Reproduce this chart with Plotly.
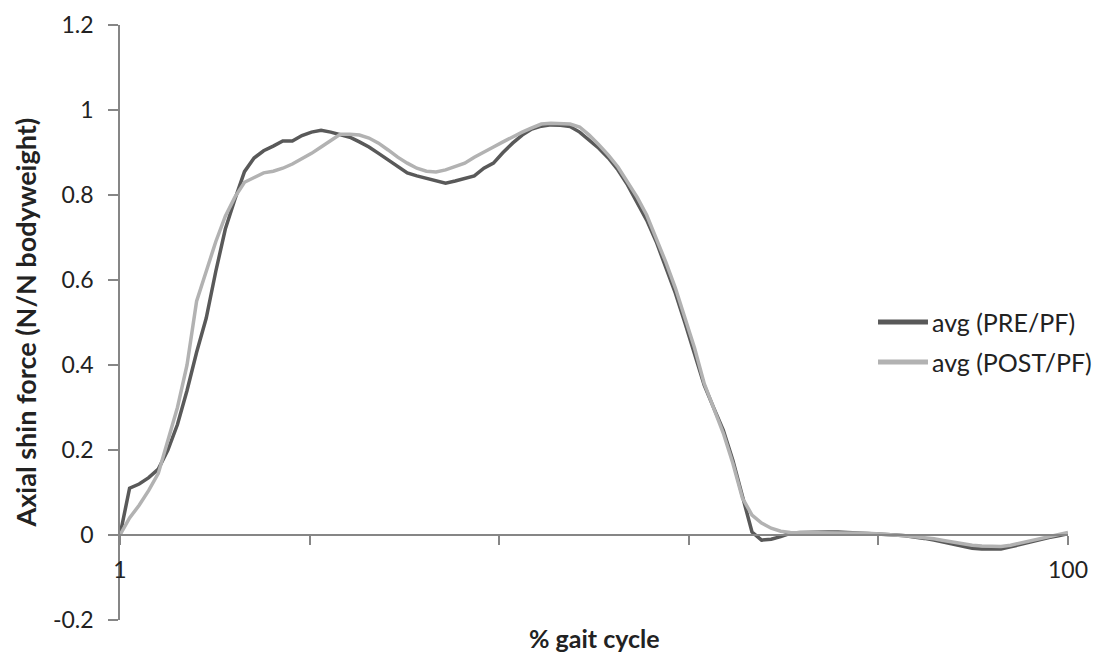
import plotly.graph_objects as go

gait_pct = list(range(1, 101))

pre_pf = [0.0, 0.11, 0.12, 0.135, 0.155, 0.20, 0.26, 0.34, 0.43, 0.51,
          0.62, 0.72, 0.79, 0.855, 0.887, 0.904, 0.915, 0.927, 0.927, 0.94,
          0.948, 0.952, 0.948, 0.943, 0.936, 0.925, 0.913, 0.898, 0.882, 0.866,
          0.852, 0.845, 0.84, 0.833, 0.828, 0.833, 0.84, 0.845, 0.863, 0.875,
          0.90, 0.922, 0.941, 0.955, 0.962, 0.965, 0.964, 0.961, 0.948, 0.929,
          0.91, 0.887, 0.859, 0.824, 0.784, 0.741, 0.69, 0.631, 0.569, 0.499,
          0.428, 0.353, 0.299, 0.247, 0.176, 0.09, 0.007, -0.012, -0.01, -0.004,
          0.004, 0.006, 0.007, 0.007, 0.007, 0.007, 0.006, 0.005, 0.005, 0.004,
          0.002, 0.0, -0.002, -0.004, -0.008, -0.012, -0.017, -0.022, -0.027, -0.031,
          -0.033, -0.034, -0.033, -0.028, -0.022, -0.016, -0.011, -0.006, -0.002, 0.003]

post_pf = [0.0, 0.04, 0.07, 0.105, 0.145, 0.22, 0.30, 0.40, 0.55, 0.62,
           0.69, 0.75, 0.795, 0.83, 0.84, 0.852, 0.856, 0.863, 0.873, 0.885,
           0.898, 0.913, 0.929, 0.943, 0.943, 0.941, 0.934, 0.922, 0.906, 0.889,
           0.875, 0.863, 0.856, 0.854, 0.859, 0.866, 0.875, 0.889, 0.90, 0.913,
           0.925, 0.937, 0.948, 0.958, 0.967, 0.969, 0.969, 0.967, 0.96, 0.941,
           0.918, 0.894, 0.866, 0.831, 0.795, 0.753, 0.70, 0.642, 0.581, 0.51,
           0.44, 0.357, 0.299, 0.24, 0.169, 0.087, 0.047, 0.028, 0.016, 0.009,
           0.006, 0.006, 0.006, 0.006, 0.006, 0.006, 0.005, 0.005, 0.004, 0.003,
           0.002, 0.0, -0.002, -0.004, -0.006, -0.009, -0.013, -0.017, -0.021, -0.024,
           -0.026, -0.027, -0.027, -0.024, -0.019, -0.013, -0.009, -0.004, 0.001, 0.006]

series_names = ["avg (PRE/PF)", "avg (POST/PF)"]
series_colors = ["#595959", "#b2b2b2"]

x_tick_vals = [1, 20.8, 40.6, 60.4, 80.2, 100]
x_tick_text = ["1", "", "", "", "", "100"]
y_tick_vals = [-0.2, 0, 0.2, 0.4, 0.6, 0.8, 1.0, 1.2]
y_tick_text = ["-0.2", "0", "0.2", "0.4", "0.6", "0.8", "1", "1.2"]

FONT = "Lato"
TXT = "#222222"
AX = "#868686"

fig = go.Figure()
for name, ys, col in zip(series_names, [pre_pf, post_pf], series_colors):
    fig.add_trace(go.Scatter(x=gait_pct, y=ys, mode="lines", name=name,
                             line=dict(color=col, width=3.5)))

fig.update_layout(
    width=1094, height=655,
    margin=dict(l=120, r=26, t=25, b=35, autoexpand=False),
    paper_bgcolor="white", plot_bgcolor="white",
    font=dict(family=FONT, size=23, color=TXT),
    showlegend=False,
    xaxis=dict(range=[1, 100], tickvals=x_tick_vals, ticktext=x_tick_text,
               anchor="free", position=0.2 / 1.4, automargin=False,
               showline=True, linecolor=AX, linewidth=1.5,
               ticks="outside", ticklen=9, tickcolor=AX, tickwidth=1.5,
               ticklabelstandoff=6,
               showgrid=False, zeroline=False,
               tickfont=dict(family=FONT, size=23, color=TXT)),
    yaxis=dict(range=[-0.2, 1.2], tickvals=y_tick_vals, ticktext=y_tick_text,
               automargin=False,
               showline=True, linecolor=AX, linewidth=1.5,
               ticks="outside", ticklen=10, tickcolor=AX, tickwidth=1.5,
               ticklabelstandoff=10,
               showgrid=False, zeroline=False,
               tickfont=dict(family=FONT, size=23, color=TXT)),
)

# legend drawn as line samples + text, placed at the reference position
legend_y = [0.5008, 0.4336]
for name, col, ly in zip(series_names, series_colors, legend_y):
    fig.add_shape(type="line", xref="paper", yref="paper",
                  x0=0.7996, x1=0.8523, y0=ly, y1=ly,
                  line=dict(color=col, width=5))
    fig.add_annotation(text=name, xref="paper", yref="paper",
                       x=0.8544, y=ly, xanchor="left", yanchor="middle",
                       showarrow=False,
                       font=dict(family=FONT, size=25, color=TXT))

fig.add_annotation(text="<b>Axial shin force (N/N bodyweight)</b>",
                   xref="paper", yref="paper", x=0, y=0.5,
                   xanchor="center", yanchor="middle", xshift=-95,
                   textangle=-90, showarrow=False,
                   font=dict(family=FONT, size=27, color=TXT))
fig.add_annotation(text="<b>% gait cycle</b>",
                   xref="paper", yref="paper", x=0.5, y=0,
                   xanchor="center", yanchor="middle", yshift=-18,
                   showarrow=False,
                   font=dict(family=FONT, size=25, color=TXT))

fig.write_html("out.html",
               config={"displayModeBar": False},
               post_script="document.body.style.margin='0px';"
                           "document.body.style.overflow='hidden';")
